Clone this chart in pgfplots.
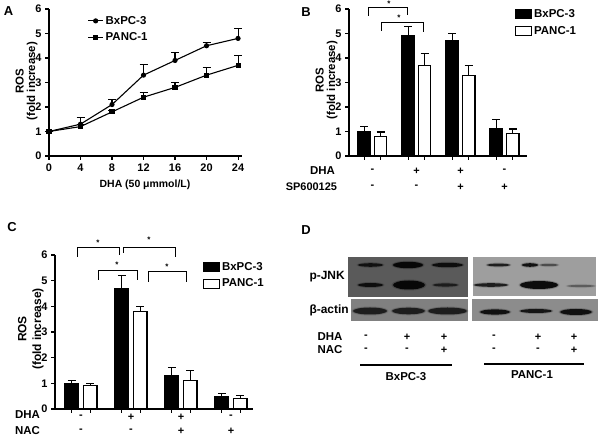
\documentclass[border=0pt]{standalone}
\usepackage{fontspec}
\setmainfont{Liberation Sans}
\usepackage{pgfplots}
\pgfplotsset{compat=1.18}
\definecolor{blotA}{RGB}{90,90,90}
\definecolor{blotB}{RGB}{128,128,128}
\definecolor{blotC}{RGB}{158,158,158}
\definecolor{blotD}{RGB}{140,140,140}
\newcommand{\fs}[1]{\fontsize{#1}{#1}\selectfont\bfseries}
\newcommand{\band}[5]{%
  \fill[black,opacity=0.2*#5] (#1,#2) ellipse ({#3+1.5} and {#4+1});
  \fill[black,opacity=0.9*#5] (#1,#2) ellipse ({#3} and {#4});}
\pgfplotsset{
  prism/.style={scale only axis, anchor=south west,
    axis x line=bottom, axis y line=left,
    axis line style={-, line width=1.1bp},
    tick align=outside, major tick length=4bp,
    tick style={line width=1.1bp, black},
    ticklabel style={font=\fs{11}},
    /pgf/number format/assume math mode=true,
    ymin=0, ymax=6, ytick={0,...,6}, clip=false,
    legend style={draw=none, fill=none, inner sep=0pt, outer sep=0pt,
      font=\fs{11.5}, row sep=3bp, anchor=north west},
    legend cell align=left},
  ebar/.style={error bars/.cd, y dir=plus, y explicit,
    error bar style={line width=1.1bp, black},
    error mark options={rotate=90, mark size=4bp, line width=1.1bp, black}},
  boxleg/.style={legend image code/.code={\draw[##1,line width=1.1bp] (0bp,-4.5bp) rectangle (16bp,4.5bp);}},
  lineleg/.style={legend image code/.code={\draw[##1, line width=1.1bp, mark repeat=2, mark phase=2] plot coordinates {(0bp,0bp) (7.5bp,0bp) (15bp,0bp)};}}
}
\begin{document}
\begin{tikzpicture}
\path[use as bounding box] (0,0) rectangle (600bp,438bp);

% ---------- Panel A ----------
\begin{axis}[prism, at={(49bp,282bp)}, width=193bp, height=147bp,
  xmin=0, xmax=24.5, xtick={0,4,...,24},
  legend style={at={(0.2,0.965)}}]
\addplot[black, line width=1.1bp, mark=*, mark size=2bp, lineleg, ebar] table[x=x, y=y, y error=e] {
x y e
0 1.0 0.0
4 1.3 0.28
8 2.1 0.2
12 3.3 0.42
16 3.9 0.32
20 4.5 0.12
24 4.8 0.41
};
\addlegendentry{BxPC-3}
\addplot[black, line width=1.1bp, mark=square*, mark size=2bp, lineleg, ebar] table[x=x, y=y, y error=e] {
x y e
0 1.0 0.0
4 1.2 0.08
8 1.8 0.05
12 2.4 0.2
16 2.8 0.2
20 3.3 0.3
24 3.7 0.4
};
\addlegendentry{PANC-1}
\end{axis}

% ---------- Panel B ----------
\begin{axis}[prism, at={(349bp,282bp)}, width=178bp, height=147bp,
  xmin=-0.53, xmax=3.51, ybar=4bp, bar width=12.5bp,
  xtick={-0.187,0.187,0.813,1.187,1.813,2.187,2.813,3.187}, xticklabels={},
  legend style={at={(0.933,1.01)}}]
\addplot[fill=black, draw=black, line width=1.1bp, boxleg, ebar] table[x=x, y=y, y error=e] {
x y e
0 1.0 0.2
1 4.9 0.38
2 4.7 0.3
3 1.1 0.4
};
\addlegendentry{BxPC-3}
\addplot[fill=white, draw=black, line width=1.1bp, boxleg, ebar] table[x=x, y=y, y error=e] {
x y e
0 0.8 0.18
1 3.7 0.5
2 3.3 0.4
3 0.9 0.2
};
\addlegendentry{PANC-1}
\end{axis}

% ---------- Panel C ----------
\begin{axis}[prism, at={(55bp,29bp)}, width=198bp, height=154bp,
  xmin=-0.52, xmax=3.44, ybar=5bp, bar width=13.5bp,
  xtick={-0.185,0.185,0.815,1.185,1.815,2.185,2.815,3.185}, xticklabels={},
  legend style={at={(0.747,0.965)}, font=\fs{11.5}}]
\addplot[fill=black, draw=black, line width=1.1bp, boxleg, ebar] table[x=x, y=y, y error=e] {
x y e
0 1.0 0.1
1 4.7 0.5
2 1.3 0.3
3 0.5 0.1
};
\addlegendentry{BxPC-3}
\addplot[fill=white, draw=black, line width=1.1bp, boxleg, ebar] table[x=x, y=y, y error=e] {
x y e
0 0.9 0.1
1 3.8 0.2
2 1.1 0.4
3 0.4 0.11
};
\addlegendentry{PANC-1}
\end{axis}

\begin{scope}[x=1bp, y=-1bp, yshift=438bp]
% panel letters
\node[font=\fs{13}] at (8.5,11.5) {A};
\node[font=\fs{13}] at (306,12) {B};
\node[font=\fs{13}] at (12,227) {C};
\node[font=\fs{13}] at (306,230) {D};

% A labels
\node[font=\fs{10.5}] at (145,185) {DHA (50 μmmol/L)};
\node[rotate=90, anchor=base, font=\fs{11.5}] at (23.5,81) {ROS};
\node[rotate=90, anchor=base, font=\fs{11.5}] at (35,81) {(fold increase)};
% B labels
\node[rotate=90, anchor=base, font=\fs{11.5}] at (323.5,80) {ROS};
\node[rotate=90, anchor=base, font=\fs{11.5}] at (335,80) {(fold increase)};
\node[font=\fs{11.5}, anchor=east] at (338.5,171) {DHA};
\node[font=\fs{11}, anchor=east] at (340.5,187) {SP600125};
\foreach \x/\s in {372.5/-,416.5/+,460.5/+,504.5/-} \node[font=\fs{11}] at (\x,171) {\s};
\foreach \x/\s in {372.5/-,416.5/-,460.5/+,504.5/+} \node[font=\fs{11}] at (\x,187) {\s};
% B brackets
\draw[line width=0.8bp] (368,16) -- (368,7) -- (407,7) -- (407,15);
\node[font=\fs{8}] at (389,3.5) {*};
\draw[line width=0.8bp] (381,31) -- (381,22) -- (423,22) -- (423,32);
\node[font=\fs{8}] at (399,18) {*};

% C labels
\node[rotate=90, anchor=base, font=\fs{12}] at (26.3,329) {ROS};
\node[rotate=90, anchor=base, font=\fs{12}] at (41,329) {(fold increase)};
\node[font=\fs{11.5}, anchor=east] at (43.5,415) {DHA};
\node[font=\fs{11.5}, anchor=east] at (43.5,431) {NAC};
\foreach \x/\s in {81/-,131/+,181/+,231/-} \node[font=\fs{11}] at (\x,417) {\s};
\foreach \x/\s in {81/-,131/-,181/+,231/+} \node[font=\fs{11}] at (\x,431) {\s};
% C brackets
\draw[line width=0.8bp] (77,257) -- (77,247) -- (119,247) -- (119,255);
\node[font=\fs{8}] at (98,243) {*};
\draw[line width=0.8bp] (123,253) -- (123,247) -- (175,247) -- (175,257);
\node[font=\fs{8}] at (149,240) {*};
\draw[line width=0.8bp] (98,280) -- (98,270) -- (137,270) -- (137,280);
\node[font=\fs{8}] at (117,265) {*};
\draw[line width=0.8bp] (148,282) -- (148,271) -- (186,271) -- (186,282);
\node[font=\fs{8}] at (167,267) {*};

% ---------- Panel D (western blot) ----------
\fill[blotA] (348,257) rectangle (468,297);
\fill[blotB] (351,299) rectangle (468,321);
\fill[blotC] (473,257) rectangle (596,296);
\fill[blotD] (472,299) rectangle (598,321);
\band{370.5}{265}{12.5}{1.8}{0.85}
\band{408}{265}{15}{3.2}{1.0}
\band{447.5}{265}{15.5}{2.2}{0.9}
\band{370.5}{285}{12.5}{2}{0.9}
\band{409}{285}{16}{4.5}{1.0}
\band{445.5}{285}{12.5}{1.6}{0.7}
\band{370}{311}{17}{3.5}{0.8}
\band{408.5}{311}{16.5}{3.3}{0.8}
\band{447.5}{311}{19.5}{3.5}{0.8}
\band{498.5}{265}{11.5}{1.4}{0.85}
\band{530}{265}{8}{1.8}{0.95}
\band{549}{265}{9}{1.2}{0.5}
\band{491}{285}{17}{1.8}{0.85}
\band{539}{285}{19}{4}{1.0}
\band{581}{286}{14}{1.1}{0.4}
\band{495}{312}{15}{2.6}{0.95}
\band{536}{311}{16}{2}{0.9}
\band{576}{312}{16}{3}{0.95}
\node[font=\fs{12}, anchor=west] at (306,277) {p-JNK};
\node[font=\fs{12}, anchor=west] at (306,310) {β-actin};
\node[font=\fs{11.5}, anchor=west] at (314,337) {DHA};
\node[font=\fs{11.5}, anchor=west] at (314,350) {NAC};
\foreach \x/\s in {366/-,407/+,444/+,494/-,538/+,574/+} \node[font=\fs{11}] at (\x,337) {\s};
\foreach \x/\s in {366/-,407/-,444/+,494/-,538/-,574/+} \node[font=\fs{11}] at (\x,350) {\s};
\draw[line width=2bp] (360,365) -- (452,365);
\draw[line width=2bp] (484,364) -- (584,364);
\node[font=\fs{11.5}] at (406,377) {BxPC-3};
\node[font=\fs{11.5}] at (532,375) {PANC-1};
\end{scope}
\end{tikzpicture}
\end{document}
